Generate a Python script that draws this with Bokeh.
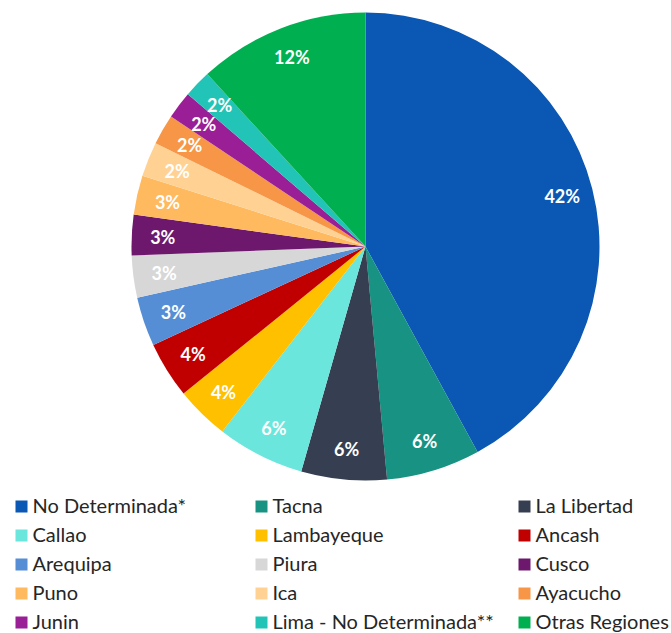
import numpy as np
from bokeh.plotting import figure
from bokeh.models import Range1d, ColumnDataSource
from bokeh.core.properties import value
from bokeh.embed import file_html
from bokeh.resources import INLINE

# ---- data ----
regions = ["No Determinada*", "Tacna", "La Libertad",
           "Callao", "Lambayeque", "Ancash",
           "Arequipa", "Piura", "Cusco",
           "Puno", "Ica", "Ayacucho",
           "Junin", "Lima - No Determinada**", "Otras Regiones"]
shares = [42.05, 6.48, 5.9, 6.05, 3.7, 3.9, 3.4, 2.9, 2.8, 2.7, 2.4, 2.1, 1.9, 1.9, 11.82]
colors = ["#0A57B4", "#179283", "#353F51",
          "#6BE6DC", "#FFC000", "#C00000",
          "#558ED5", "#D7D7D7", "#6D186D",
          "#FFB95E", "#FFD294", "#F79646",
          "#9A1E96", "#21C4B6", "#00B050"]

W, H = 671, 633
CX, CY_IMG, R = 365, 246, 234
CY = H - CY_IMG
LABEL_R = 203

vals = np.array(shares, dtype=float)
frac = vals / vals.sum()
cum = np.concatenate([[0.0], np.cumsum(frac)])
theta1 = cum[:-1] * 2 * np.pi   # clockwise from north
theta2 = cum[1:] * 2 * np.pi
start = np.pi / 2 - theta2
end = np.pi / 2 - theta1
mid = (theta1 + theta2) / 2

p = figure(width=W, height=H, output_backend="svg", toolbar_location=None,
           x_range=Range1d(0, W), y_range=Range1d(0, H), min_border=0)
p.axis.visible = False
p.grid.visible = False
p.outline_line_color = None
p.background_fill_color = "white"
p.border_fill_color = "white"

src = ColumnDataSource(dict(start=start, end=end, color=colors))
p.wedge(x=CX, y=CY, radius=R, start_angle="start", end_angle="end",
        fill_color="color", line_color=None, source=src)

labels = [f"{round(v)}%" for v in vals]
lsrc = ColumnDataSource(dict(x=CX + LABEL_R * np.sin(mid),
                             y=CY + LABEL_R * np.cos(mid),
                             t=labels))
p.text(x="x", y="y", text="t", source=lsrc, text_color="white",
       text_font=value("Lato"), text_font_style="bold", text_font_size="18px",
       text_align="center", text_baseline="middle")

# ---- legend ----
col_x = [15, 255, 518]
row_y0, row_dy = 506, 29
idx = np.arange(len(regions))
lx = np.array([col_x[i % 3] for i in idx])
ly = np.array([H - (row_y0 + row_dy * (i // 3)) for i in idx])
legsrc = ColumnDataSource(dict(x=lx + 6, y=ly, tx=lx + 17, ty=ly + 1.5,
                               color=colors, name=regions))
p.rect(x="x", y="y", width=12, height=12, fill_color="color", line_color=None, source=legsrc)
p.text(x="tx", y="ty", text="name", source=legsrc, text_color="#262626",
       text_font=value("Lato"), text_font_size="20px",
       text_align="left", text_baseline="middle")

open("out.html", "w").write(file_html(p, INLINE))
